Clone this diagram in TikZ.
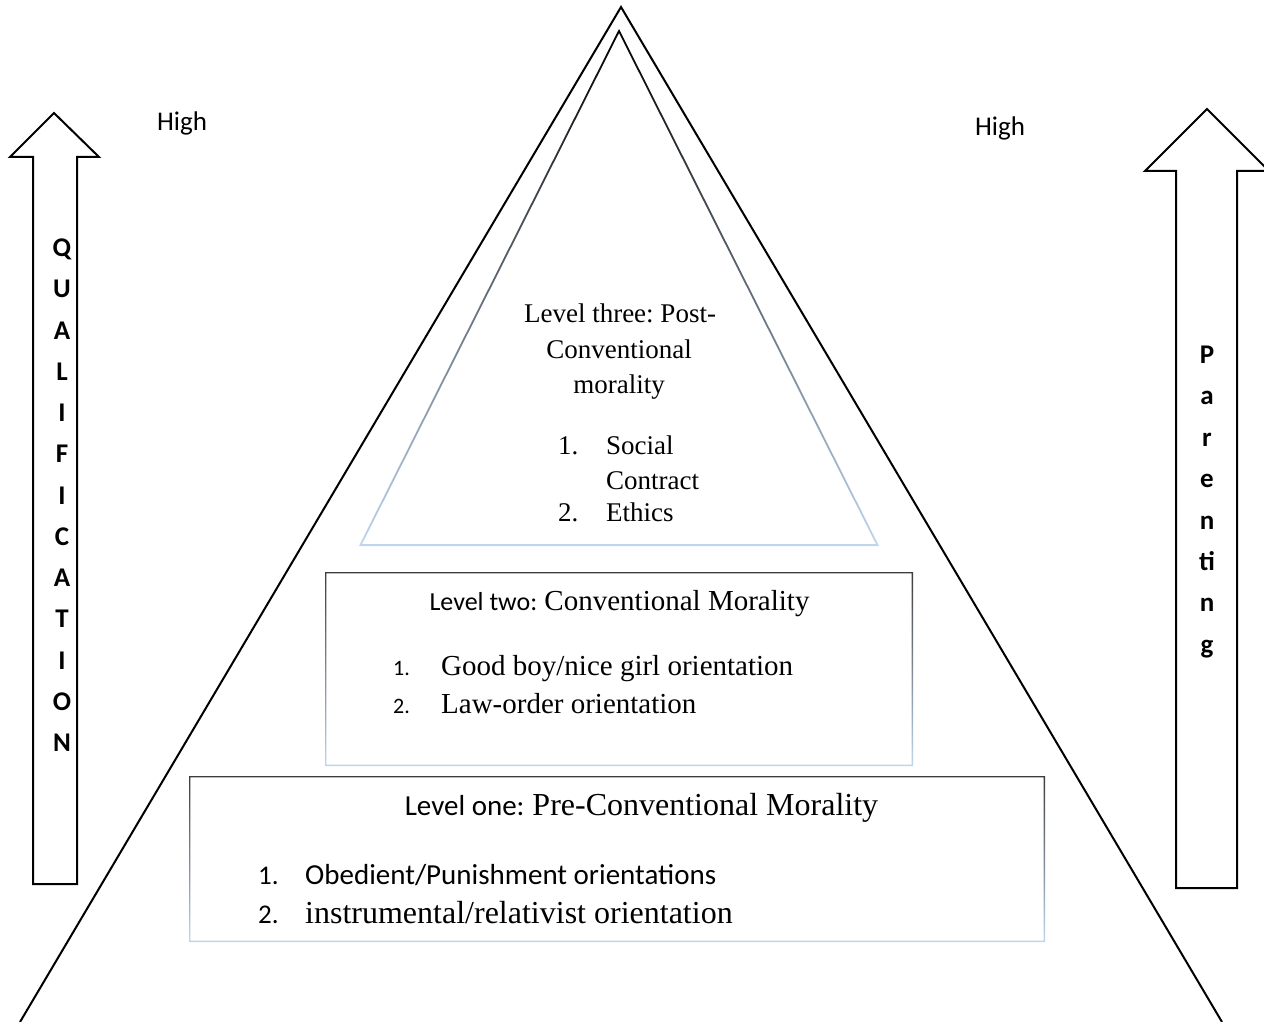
\documentclass[tikz,border=0pt]{standalone}
\usepackage{fontspec}
\setmainfont{Liberation Serif}
\newfontfamily\carlito{Carlito}
\definecolor{paleblue}{RGB}{192,214,238}
\definecolor{framegray}{RGB}{60,60,60}
\frenchspacing
\begin{document}
\begin{tikzpicture}[x=1pt,y=-1pt,
outline/.style = {line width=2pt,black,line join=miter},
frame/.style = {top color=framegray,bottom color=paleblue,even odd rule},
txt/.style = {inner sep=0pt,anchor=base,font=\fontsize{#1}{#1}\selectfont},
txtl/.style = {inner sep=0pt,anchor=base west,font=\fontsize{#1}{#1}\selectfont},
sans/.style = {inner sep=0pt,anchor=base west,font=\carlito\fontsize{#1}{#1}\selectfont},
high/.style = {inner sep=0pt,anchor=base,font=\carlito\fontsize{27}{27}\selectfont},
vlet/.style = {inner sep=0pt,anchor=base,font=\carlito\bfseries\fontsize{27}{27}\selectfont}]

        \useasboundingbox (0,0) rectangle (1264,1022);

        % outer pyramid
        \coordinate (Top_O) at ( 621, 7 );
        \coordinate (BL_O) at ( 20, 1022 );
        \coordinate (BR_O) at ( 1222, 1022 );
        \draw[outline] (BL_O) -- (Top_O) -- (BR_O);

        % inner triangle (level three)
        \coordinate (Top_I) at ( 619, 29 );
        \coordinate (BL_I) at ( 359, 546 );
        \coordinate (BR_I) at ( 879, 546 );
        \shade[frame,top color=black] (Top_I) -- (BL_I) -- (BR_I) -- cycle
            (619, 33) -- (361.9, 544.2) -- (876.1, 544.2) -- cycle;

        % level boxes
        \shade[frame] (325, 572) rectangle (913, 766)
            (326.4, 573.4) rectangle (911.6, 764.6);
        \shade[frame] (189, 776) rectangle (1045, 942)
            (190.4, 777.4) rectangle (1043.6, 940.6);

        % arrows
        \draw[outline] (54, 113) -- (99, 157) -- (77, 157) -- (77, 884)
            -- (33, 884) -- (33, 157) -- (10, 157) -- cycle;
        \draw[outline] (1207, 109) -- (1269, 171) -- (1237, 171) -- (1237, 888)
            -- (1176, 888) -- (1176, 171) -- (1145, 171) -- cycle;

        \node[high] (High_L) at ( 182, 131 ) {High};
        \node[high] (High_R) at ( 1000, 136 ) {High};

        \foreach \ch [count=\i from 0] in {Q,U,A,L,I,F,I,C,A,T,I,O,N}
            \node[vlet] (Qual\i) at ( 62, {256.5+41.25*\i} ) {\ch};
        \foreach \ch [count=\i from 0] in {P,a,r,e,n,ti,n,g}
            \node[vlet] (Par\i) at ( 1207, {363.5+41.4*\i} ) {\ch};

        % level three
        \node[txt=27] (L3_a) at ( 620, 322 ) {Level three: Post-};
        \node[txt=27] (L3_b) at ( 619, 358 ) {Conventional};
        \node[txt=27] (L3_c) at ( 619, 393 ) {morality};
        \node[txtl=27] (L3_n1) at ( 558, 454 ) {1.};
        \node[txtl=27] (L3_i1) at ( 606, 454 ) {Social};
        \node[txtl=27] (L3_i1b) at ( 606, 489 ) {Contract};
        \node[txtl=27] (L3_n2) at ( 558, 521 ) {2.};
        \node[txtl=27] (L3_i2) at ( 606, 521 ) {Ethics};

        % level two
        \node[txt=29] (L2_t) at ( 619.5, 610 )
            {{\carlito\fontsize{26}{26}\selectfont Level two:} Conventional Morality};
        \node[sans=22] (L2_n1) at ( 393, 675 ) {1.};
        \node[txtl=29] (L2_i1) at ( 441, 675 ) {Good boy/nice girl orientation};
        \node[sans=22] (L2_n2) at ( 393, 713 ) {2.};
        \node[txtl=29] (L2_i2) at ( 441, 713 ) {Law-order orientation};

        % level one
        \node[txt=32] (L1_t) at ( 641.5, 815 )
            {{\carlito\fontsize{29}{29}\selectfont Level one:} Pre-Conventional Morality};
        \node[sans=27] (L1_n1) at ( 258, 884 ) {1.};
        \node[sans=29] (L1_i1) at ( 305, 884 ) {Obedient/Punishment orientations};
        \node[sans=27] (L1_n2) at ( 258, 923 ) {2.};
        \node[txtl=32] (L1_i2) at ( 305, 923 ) {instrumental/relativist orientation};

\end{tikzpicture}
\end{document}
